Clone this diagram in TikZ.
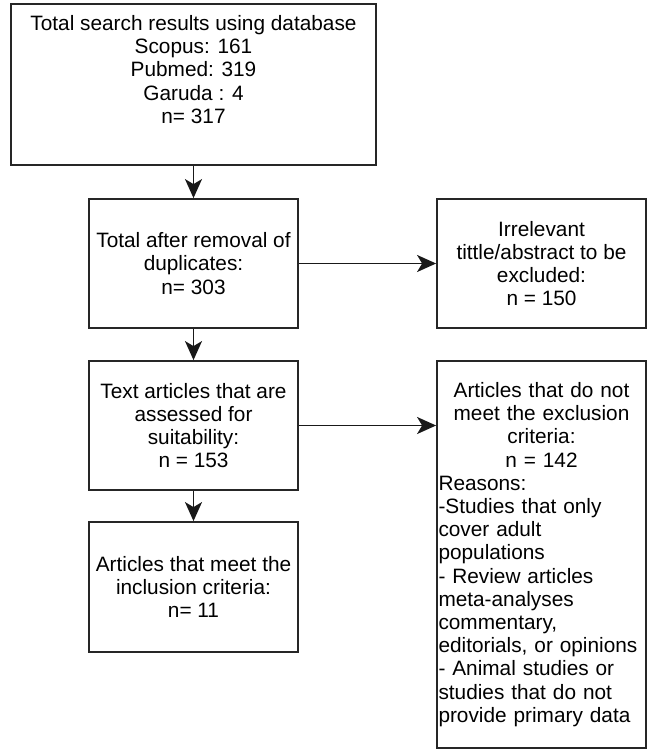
\documentclass[tikz,border=0pt]{standalone}
\usepackage{fontspec}
\setmainfont{Liberation Sans}
\usetikzlibrary{arrows.meta}

\begin{document}
\begin{tikzpicture}[x=1pt, y=-1pt,
		box/.style={draw=black!85, line width=1.8pt, inner sep=0pt, align=center, minimum width=209pt, font=\fontsize{20.8}{23.2}\selectfont},
		arr/.style={line width=1.7pt, draw=black!90, -{Stealth[length=19pt, width=17pt, inset=5pt]}}]
		\useasboundingbox (0,0) rectangle (647,749);

		\node[box, minimum width=365pt, minimum height=161pt] (search) at (193.5,84.5) {Total search results using database\\Scopus: 161\\Pubmed: 319\\Garuda : 4\\n= 317\\ \strut};
		\node[box, minimum height=129pt] (dedup) at (193.5,263.5) {Total after removal of\\duplicates:\\n= 303};
		\node[box, minimum height=129pt] (irrelevant) at (541.5,263.5) {Irrelevant\\tittle/abstract to be\\excluded:\\n = 150};
		\node[box, minimum height=129pt] (assessed) at (193.5,425.5) {Text articles that are\\assessed for\\suitability:\\n = 153};
		\node[box, minimum height=130pt] (include) at (193.5,587) {Articles that meet the\\inclusion criteria:\\n= 11};
		\node[box, minimum height=387pt, text width=206pt, inner xsep=1.5pt, align=left] (notmeet) at (541.5,554.5) {{\centering Articles that do not\\meet the exclusion\\criteria:\\n = 142\par}Reasons:\\-Studies that only\\cover adult\\populations\\- Review articles\\meta-analyses\\commentary,\\editorials, or opinions\\- Animal studies or\\studies that do not\\provide primary data};

		\foreach \a/\b in {search/dedup, dedup/assessed, assessed/include} {
				\draw[arr] (\a.south) -- (\b.north);
			}
		\draw[arr] (dedup.east) -- (irrelevant.west);
		\draw[arr] (assessed.east) -- (assessed.east -| notmeet.west);
	\end{tikzpicture}
\end{document}
